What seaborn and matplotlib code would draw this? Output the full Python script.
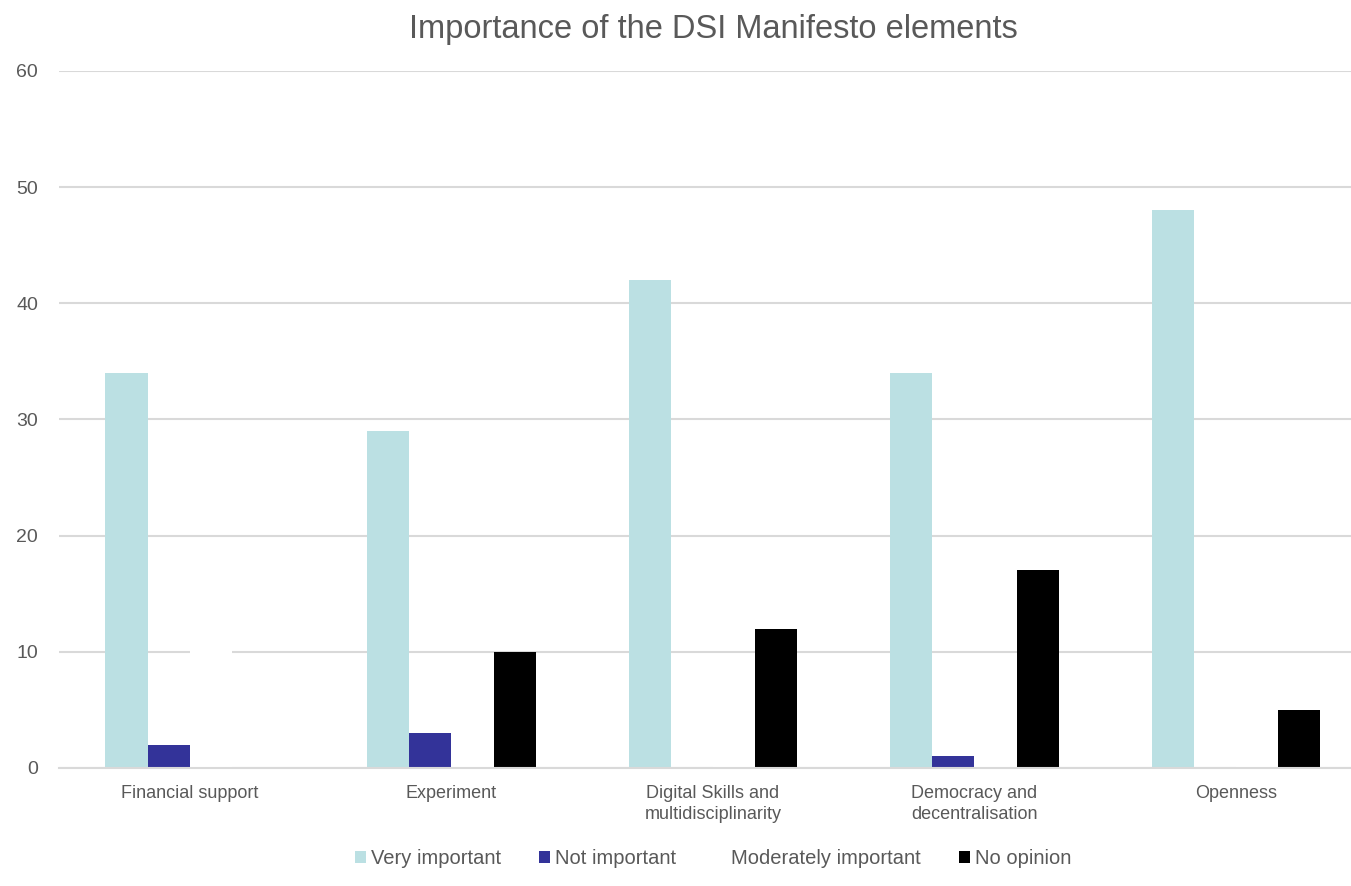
import pandas as pd
import matplotlib.pyplot as plt
import seaborn as sns

#-----------------------------------------
# survey data
#-----------------------------------------
categories = ['Financial support', 'Experiment', 'Digital Skills and\nmultidisciplinarity',
              'Democracy and\ndecentralisation', 'Openness']
very_important = [34, 29, 42, 34, 48]
not_important = [2, 3, 0, 1, 0]
moderately_important = [14, 6, 4, 6, 5]  # white bars, mostly hidden
no_opinion = [0, 10, 12, 17, 5]
series_names = ['Very important', 'Not important', 'Moderately important', 'No opinion']
colors = ['#BBE0E3', '#333399', '#FFFFFF', '#000000']

df = pd.DataFrame({'Element': categories,
                   'Very important': very_important,
                   'Not important': not_important,
                   'Moderately important': moderately_important,
                   'No opinion': no_opinion})
df_long = pd.melt(df, id_vars=['Element'], value_vars=series_names,
                  var_name='Rating', value_name='Count')

sns.set_style('white')
plt.rcParams['font.family'] = ['Liberation Sans', 'DejaVu Sans']

fig = plt.figure(figsize=(13.51, 8.86), dpi=100)
# plot area runs past the right edge of the picture, as in the source
ax = fig.add_axes([0.0437, 0.1332, 0.968, 0.7868])
ax.set_axisbelow(True)
ax.yaxis.grid(True, color='#D9D9D9', linewidth=1.5)

sns.barplot(data=df_long, x='Element', y='Count', hue='Rating', hue_order=series_names,
            palette=colors, width=0.645, saturation=1, ax=ax, linewidth=0)

ax.set_ylim(0, 60)
ax.set_yticks(range(0, 61, 10))
ax.set_xlim(-0.5, 4.5)
ax.set_xlabel('')
ax.set_ylabel('')
for s in ['top', 'right', 'left']:
    ax.spines[s].set_visible(False)
ax.spines['bottom'].set_color('#D9D9D9')
ax.spines['bottom'].set_linewidth(1.5)
ax.tick_params(axis='both', length=0, labelcolor='#595959')
ax.tick_params(axis='y', pad=15, labelsize=14)
ax.tick_params(axis='x', pad=12, labelsize=13)
for lbl in ax.get_xticklabels():
    lbl.set_linespacing(1.35)

ax.set_title('Importance of the DSI Manifesto elements', fontsize=23.5, color='#595959', pad=24)

ax.legend(loc='lower center', ncol=4, frameon=False, fontsize=14.5, labelcolor='#595959',
          handlelength=0.55, handleheight=0.55, handletextpad=0.25, columnspacing=1.9)
leg = ax.get_legend()
# legend sits at the bottom of the figure, centred on the plot area
x_mid = ax.get_position().x0 + ax.get_position().width / 2
leg.set_bbox_to_anchor((x_mid, 0.0), transform=fig.transFigure)

plt.savefig('out.png', dpi=100)
